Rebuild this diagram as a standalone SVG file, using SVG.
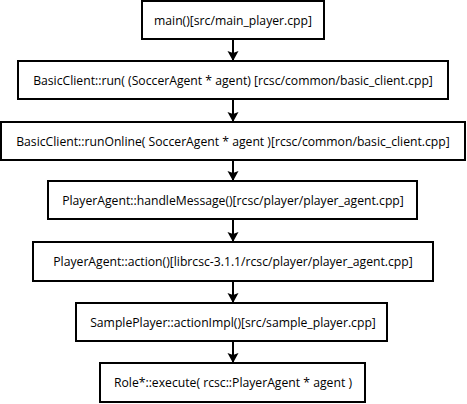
<svg xmlns="http://www.w3.org/2000/svg" width="467" height="404" viewBox="0 0 467 404">
<style>
.box{fill:#fff;stroke:#000;stroke-width:2}
.t{font-family:"Open Sans","DejaVu Sans",sans-serif;font-size:12.2px;fill:#000;text-anchor:middle;dominant-baseline:central}
.c{stroke:#000;stroke-width:2;fill:none;marker-end:url(#ah)}
</style>
<defs>
<marker id="ah" markerUnits="userSpaceOnUse" markerWidth="12" markerHeight="12" viewBox="0 0 12 12" refX="11" refY="6" orient="auto">
<path d="M1,0.5 L11,6 L1,11.5 L3,6 Z" fill="#000"/>
</marker>
</defs>
<rect width="467" height="404" fill="#fff"/>
<g id="connectors">
<line class="c" x1="233" y1="39" x2="233" y2="61"/>
<line class="c" x1="233" y1="99" x2="233" y2="122"/>
<line class="c" x1="233" y1="160" x2="233" y2="181"/>
<line class="c" x1="233" y1="219" x2="233" y2="242"/>
<line class="c" x1="233" y1="281" x2="233" y2="303"/>
<line class="c" x1="233" y1="341" x2="233" y2="363"/>
</g>
<g id="n1"><rect class="box" x="142" y="1" width="182" height="38"/><text class="t" x="233" y="20">main()[src/main_player.cpp]</text></g>
<g id="n2"><rect class="box" x="18" y="61" width="430" height="38"/><text class="t" x="233" y="80">BasicClient::run( (SoccerAgent * agent) [rcsc/common/basic_client.cpp]</text></g>
<g id="n3"><rect class="box" x="1" y="122" width="464" height="38"/><text class="t" x="233" y="141">BasicClient::runOnline( SoccerAgent * agent )[rcsc/common/basic_client.cpp]</text></g>
<g id="n4"><rect class="box" x="48" y="181" width="369" height="38"/><text class="t" x="233" y="200">PlayerAgent::handleMessage()[rcsc/player/player_agent.cpp]</text></g>
<g id="n5"><rect class="box" x="33" y="242" width="400" height="39"/><text class="t" x="233" y="261.5">PlayerAgent::action()[librcsc-3.1.1/rcsc/player/player_agent.cpp]</text></g>
<g id="n6"><rect class="box" x="76" y="303" width="311" height="38"/><text class="t" x="233" y="322">SamplePlayer::actionImpl()[src/sample_player.cpp]</text></g>
<g id="n7"><rect class="box" x="100" y="363" width="265" height="39"/><text class="t" x="233" y="382.5">Role*::execute( rcsc::PlayerAgent * agent )</text></g>
</svg>
